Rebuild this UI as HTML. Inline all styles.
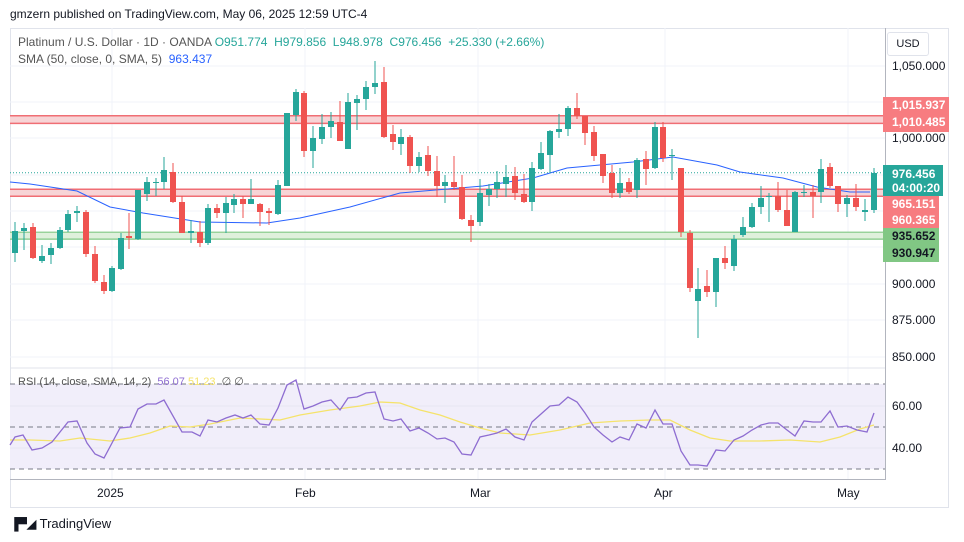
<!DOCTYPE html>
<html><head><meta charset="utf-8"><style>
body{margin:0;width:964px;height:542px;background:#fff;font-family:"Liberation Sans",sans-serif;overflow:hidden;position:relative}
.t{position:absolute;white-space:nowrap}
</style></head><body>
<div class="t" style="left:10px;top:7px;font-size:12px;color:#131722">gmzern published on TradingView.com, May 06, 2025 12:59 UTC-4</div>
<svg id="s" width="964" height="542" style="position:absolute;left:0;top:0">
<rect x="10.5" y="28.5" width="938" height="479" fill="none" stroke="#e0e3eb"/>
<g stroke="#f0f3fa" stroke-width="1">
<line x1="10" y1="66" x2="885" y2="66"/><line x1="10" y1="102" x2="885" y2="102"/><line x1="10" y1="138" x2="885" y2="138"/><line x1="10" y1="175" x2="885" y2="175"/><line x1="10" y1="211" x2="885" y2="211"/><line x1="10" y1="247" x2="885" y2="247"/><line x1="10" y1="284" x2="885" y2="284"/><line x1="10" y1="320" x2="885" y2="320"/><line x1="10" y1="357" x2="885" y2="357"/>
<line x1="112" y1="28" x2="112" y2="480"/><line x1="305" y1="28" x2="305" y2="480"/><line x1="478" y1="28" x2="478" y2="480"/><line x1="665" y1="28" x2="665" y2="480"/><line x1="848" y1="28" x2="848" y2="480"/>
</g>
<!-- zones -->
<rect x="10" y="115.7" width="875" height="7.7" fill="#f7d4d6"/>
<line x1="10" y1="115.7" x2="885" y2="115.7" stroke="#f06e74" stroke-width="1.5"/><line x1="10" y1="123.4" x2="885" y2="123.4" stroke="#f06e74" stroke-width="1.5"/>
<rect x="10" y="189.3" width="875" height="6.9" fill="#f7d4d6"/>
<line x1="10" y1="189.3" x2="885" y2="189.3" stroke="#f06e74" stroke-width="1.5"/><line x1="10" y1="196.2" x2="885" y2="196.2" stroke="#f06e74" stroke-width="1.5"/>
<rect x="10" y="232.2" width="875" height="6.9" fill="#dff0dc"/>
<line x1="10" y1="232.2" x2="885" y2="232.2" stroke="#81c784" stroke-width="1.2"/><line x1="10" y1="239.1" x2="885" y2="239.1" stroke="#81c784" stroke-width="1.2"/>
<line x1="10" y1="172.8" x2="885" y2="172.8" stroke="#26a69a" stroke-dasharray="1,2"/>
<polyline fill="none" stroke="#2962ff" stroke-width="1" points="10,182 30,184 77,191 110,207 143,213 200,222 267,223 300,218 350,207 400,193 483,186 533,178 567,168 600,165 633,162 673,157 717,165 740,172 783,178 817,187 850,192 870,192"/>
<g id="c"></g>
<!-- RSI -->
<line x1="10" y1="368" x2="885" y2="368" stroke="#e0e3eb"/>
<rect x="10" y="384" width="875" height="85" fill="#f1eefa"/>
<g stroke="#e8e6f2"><line x1="10" y1="406" x2="885" y2="406"/><line x1="10" y1="448" x2="885" y2="448"/></g>
<g stroke="#787b86" stroke-dasharray="5,4"><line x1="10" y1="384" x2="885" y2="384"/><line x1="10" y1="427" x2="885" y2="427"/><line x1="10" y1="469" x2="885" y2="469"/></g>
<polyline fill="none" stroke="#f5e36b" stroke-width="1.3" points="10,440 30,440 60,441 80,438 110,441 130,438 150,433 170,426 190,427 210,424 240,418 280,420 300,415 330,410 360,406 380,402 400,403 420,410 440,415 460,422 480,428 500,433 530,435 560,430 590,423 620,421 650,420 670,420 690,430 710,438 730,441 760,441 790,440 820,442 840,437 860,429 874,425"/>
<polyline fill="none" stroke="#8e6dd1" stroke-width="1.3" points="10,445 15,437 23,435 32,450 42,448 52,442 68,422 77,421 87,443 95,454 104,458 120,428 130,427 138,409 147,404 156,404 164,400 182,432 192,432 200,436 208,420 217,422 226,418 235,415 243,418 251,415 260,424 269,425 278,408 287,385 296,380 304,409 313,406 322,402 331,400 340,410 348,398 357,397 366,393 375,392 384,419 393,421 401,419 410,431 419,428 428,433 437,439 445,438 454,442 462,454 471,455 480,437 489,435 497,433 506,429 515,437 524,440 532,422 541,414 550,406 559,405 568,397 577,402 585,413 594,427 603,435 612,442 620,437 629,440 637,424 646,428 655,410 663,424 672,424 681,451 690,465 698,465 707,466 716,450 725,451 734,440 743,436 752,430 761,425 769,423 778,423 787,430 795,436 804,421 813,422 821,422 830,411 838,427 847,426 857,430 867,432 874,413"/>
<line x1="10" y1="479.5" x2="885" y2="479.5" stroke="#b2b5be"/>
<line x1="885.5" y1="28" x2="885.5" y2="480" stroke="#b2b5be"/>
</svg>
<div class="t" style="left:18px;top:35px;font-size:12px;color:#555">Platinum / U.S. Dollar · 1D · OANDA <span style="color:#26a69a">O951.774 &nbsp;H979.856 &nbsp;L948.978 &nbsp;C976.456 &nbsp;+25.330 (+2.66%)</span></div>
<div class="t" style="left:18px;top:52px;font-size:12px;color:#555">SMA (50, close, 0, SMA, 5) &nbsp;<span style="color:#2962ff">963.437</span></div>
<div class="t" style="left:18px;top:375px;font-size:11px;color:#555">RSI (14, close, SMA, 14, 2) &nbsp;<span style="color:#8e6dd1">56.07</span> <span style="color:#f5e36b">51.23</span> &nbsp;∅ ∅</div>
<div class="t" style="left:887px;top:32px;width:40px;height:22px;border:1px solid #e0e3eb;border-radius:3px;font-size:11px;line-height:22px;text-align:center;color:#131722">USD</div>
<div style="font-size:12px;color:#131722">
<div class="t" style="left:892px;top:59px">1,050.000</div>
<div class="t" style="left:892px;top:131px">1,000.000</div>
<div class="t" style="left:892px;top:277px">900.000</div>
<div class="t" style="left:892px;top:313px">875.000</div>
<div class="t" style="left:892px;top:350px">850.000</div>
<div class="t" style="left:892px;top:399px">60.00</div>
<div class="t" style="left:892px;top:441px">40.00</div>
</div>
<div class="t" style="left:883px;top:97px;width:66px;height:35px;background:#f77c80;color:#fff;font-size:12px;font-weight:bold;line-height:17px;padding-left:9px;box-sizing:border-box">1,015.937<br>1,010.485</div>
<div class="t" style="left:883px;top:165px;width:60px;height:31px;background:#26a69a;color:#fff;font-size:12px;font-weight:bold;line-height:14px;padding:2px 0 0 9px;box-sizing:border-box">976.456<br>04:00:20</div>
<div class="t" style="left:883px;top:196px;width:56px;height:32px;background:#f77c80;color:#fff;font-size:12px;font-weight:bold;line-height:16px;padding-left:9px;box-sizing:border-box">965.151<br>960.365</div>
<div class="t" style="left:883px;top:228px;width:56px;height:34px;background:#81c784;color:#131722;font-size:12px;font-weight:bold;line-height:17px;padding-left:9px;box-sizing:border-box">935.652<br>930.947</div>
<div style="font-size:12px;color:#131722">
<div class="t" style="left:97px;top:486px">2025</div>
<div class="t" style="left:295px;top:486px">Feb</div>
<div class="t" style="left:470px;top:486px">Mar</div>
<div class="t" style="left:654px;top:486px">Apr</div>
<div class="t" style="left:837px;top:486px">May</div>
</div>
<div class="t" style="left:10px;top:516px;font-size:13px;color:#131722"><b style="font-size:12px">▐▀◢</b> TradingView</div>
<script>
var d=[[15,231,253,222,262,1],[24,228,231,223,250,1],[33,227,258,223,259,0],[42,256,261,245,263,1],[51,248,255,243,264,1],[60,230,248,227,249,1],[68,214,230,210,232,1],[77,211,213,206,222,1],[86,212,254,210,257,0],[95,254,281,246,283,0],[104,282,291,275,294,0],[112,268,291,266,292,1],[121,238,269,233,270,1],[129,236,238,213,249,0],[138,190,239,190,240,1],[147,182,194,177,201,1],[156,182,183,178,196,1],[164,170,182,157,189,1],[173,172,202,163,203,0],[182,202,233,196,233,0],[191,231,233,220,243,1],[200,232,243,221,247,0],[208,208,243,204,245,1],[217,208,213,204,218,0],[226,203,213,197,233,1],[234,199,205,194,213,1],[243,199,204,196,218,0],[251,199,204,179,204,1],[260,204,212,203,226,0],[269,211,213,208,225,0],[278,185,214,180,215,1],[287,113,186,113,186,1],[296,92,115,89,121,1],[304,93,151,91,157,0],[313,138,151,126,168,1],[322,127,139,114,144,1],[331,121,127,112,138,1],[340,122,141,101,141,0],[348,102,149,93,149,1],[357,99,103,95,130,1],[366,87,99,81,110,1],[375,83,87,61,94,1],[384,82,137,67,138,0],[393,134,142,125,150,0],[401,137,144,129,155,1],[410,137,166,135,173,0],[419,157,166,152,172,1],[428,155,171,146,176,0],[437,171,186,156,197,0],[445,182,186,175,203,1],[454,182,187,156,190,0],[462,187,219,175,220,0],[471,220,226,215,242,0],[480,193,222,179,226,1],[489,189,195,184,206,1],[497,182,189,171,198,1],[506,177,184,165,197,1],[515,176,193,167,200,0],[524,194,202,174,203,0],[532,168,202,162,211,1],[541,153,169,142,170,1],[550,131,155,130,173,1],[559,129,132,114,138,1],[568,108,129,106,136,1],[577,108,116,93,119,0],[585,116,133,116,145,0],[594,132,156,126,161,0],[603,154,176,154,183,0],[612,173,193,165,198,0],[620,183,193,168,198,1],[629,182,192,178,194,0],[637,160,190,158,198,1],[646,159,169,151,185,0],[655,127,168,122,169,1],[663,127,158,122,162,0],[672,155,156,149,180,1],[681,168,232,168,237,0],[690,233,288,230,292,0],[698,289,301,268,338,1],[707,286,292,270,297,0],[716,258,292,258,307,1],[725,258,263,246,269,0],[734,239,266,235,271,1],[743,227,235,217,237,1],[752,207,227,203,228,1],[761,198,207,186,214,1],[769,196,197,193,222,1],[778,196,210,182,212,0],[787,210,226,190,226,0],[795,192,232,191,232,1],[804,192,193,185,197,1],[813,192,196,185,218,0],[821,169,192,159,203,1],[830,167,186,163,188,0],[838,186,204,186,212,0],[847,198,204,195,217,1],[856,198,207,184,211,0],[865,210,212,199,221,1],[874,173,210,168,213,1]];
var g=document.getElementById('c'),h='';
d.forEach(function(a){var col=a[5]?'#26a69a':'#ef5350';h+='<line x1="'+a[0]+'" x2="'+a[0]+'" y1="'+a[3]+'" y2="'+a[4]+'" stroke="'+col+'" stroke-width="1"/>';h+='<rect x="'+(a[0]-3)+'" y="'+a[1]+'" width="6" height="'+Math.max(1,a[2]-a[1])+'" fill="'+col+'"/>';});
g.innerHTML=h;
</script>
</body></html>
